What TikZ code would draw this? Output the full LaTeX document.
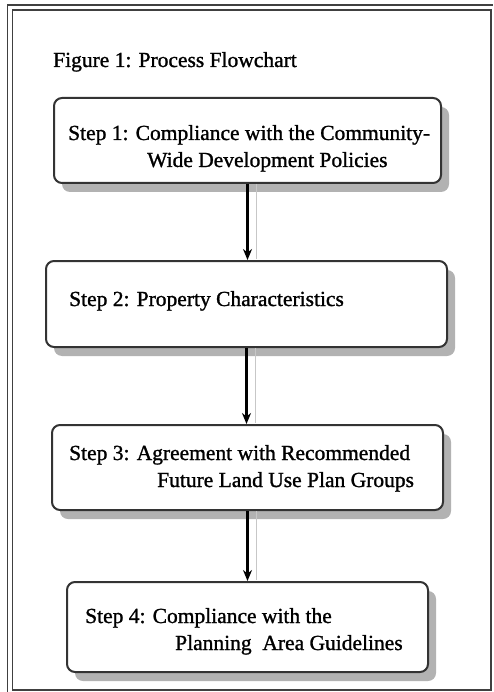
\documentclass[tikz,border=0pt]{standalone}
\usepackage{fontspec}
\setmainfont{Liberation Serif}[FakeBold=1.2]
\usetikzlibrary{arrows.meta,shadows}
\tikzset{
  frameline/.style={line width=1.5pt, black!75},
  stepbox/.style={draw=black!80, line width=2pt, rounded corners=8pt, fill=white,
    drop shadow={shadow xshift=8pt, shadow yshift=-9pt, fill=black!30, opacity=1}},
  steptext/.style={anchor=base west, inner sep=0pt, font=\fontsize{21.5}{26}\selectfont},
  link/.style={line width=2.4pt, -{Stealth[length=11pt,width=9pt]}},
  linkshadow/.style={line width=1.6pt, black!22, shorten >=1pt},
}
\begin{document}
\begin{tikzpicture}[x=1pt,y=-1pt]
\useasboundingbox (0,0) rectangle (493,692);
% page frame
\draw[frameline] (7.5,692) -- (7.5,5) -- (493,5);
\draw[frameline] (12.5,10) rectangle (491,690);

\node[steptext] (title) at (53,67) {Figure 1: Process Flowchart};

\node[stepbox, minimum width=387pt, minimum height=85pt] (S1) at (247.5,140.5) {};
\node[stepbox, minimum width=401pt, minimum height=86pt] (S2) at (246.5,304) {};
\node[stepbox, minimum width=391pt, minimum height=85pt] (S3) at (247.5,467.5) {};
\node[stepbox, minimum width=361pt, minimum height=90pt] (S4) at (247.5,627) {};

\node[steptext] (T1a) at (68,140) {Step 1: Compliance with the Community-};
\node[steptext] (T1b) at (147,167) {Wide Development Policies};
\node[steptext] (T2) at (69,306) {Step 2: Property Characteristics};
\node[steptext] (T3a) at (69,460) {Step 3: Agreement with Recommended};
\node[steptext] (T3b) at (157,487) {Future Land Use Plan Groups};
\node[steptext] (T4a) at (85,623) {Step 4: Compliance with the};
\node[steptext] (T4b) at (175,650) {Planning\ \ Area Guidelines};

% shadows of the links
\draw[linkshadow] ([xshift=9pt]S1.south) -- ([xshift=9pt]S1.south |- S2.north);
\draw[linkshadow] ([xshift=9pt]S2.south) -- ([xshift=9pt]S2.south |- S3.north);
\draw[linkshadow] ([xshift=9pt]S3.south) -- ([xshift=9pt]S3.south |- S4.north);

\draw[link] (S1.south) -- (S1.south |- S2.north);
\draw[link] (S2.south) -- (S2.south |- S3.north);
\draw[link] (S3.south) -- (S3.south |- S4.north);
\end{tikzpicture}
\end{document}
